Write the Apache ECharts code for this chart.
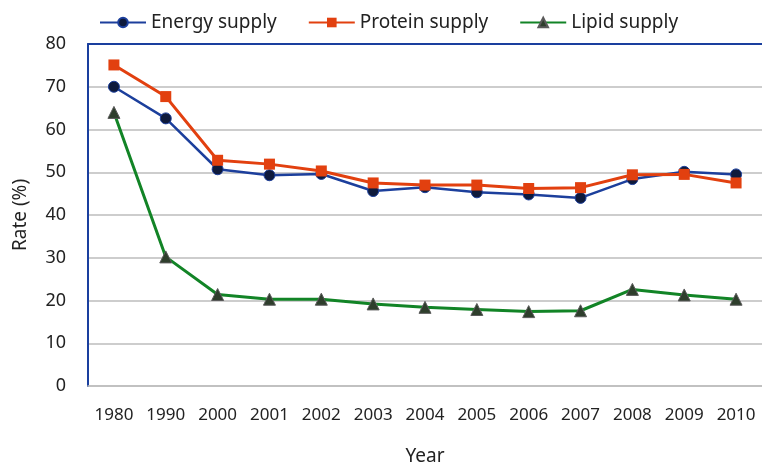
<!DOCTYPE html>
<html>
<head>
<meta charset="utf-8">
<script src="https://cdn.jsdelivr.net/npm/echarts@6/dist/echarts.min.js"></script>
<style>
  html, body { margin: 0; padding: 0; background: #fff; }
  #chart { width: 762px; height: 464px; }
</style>
</head>
<body>
<div id="chart"></div>
<script>
// categories and values
const years = ["1980", "1990", "2000", "2001", "2002", "2003", "2004", "2005", "2006", "2007", "2008", "2009", "2010"];
const energySupply = [70.0, 62.6, 50.7, 49.3, 49.6, 45.6, 46.5, 45.3, 44.8, 44.0, 48.4, 50.1, 49.5];
const proteinSupply = [75.1, 67.7, 52.8, 51.9, 50.3, 47.5, 47.0, 47.0, 46.2, 46.4, 49.4, 49.5, 47.5];
const lipidSupply = [64.0, 30.2, 21.4, 20.3, 20.3, 19.2, 18.4, 17.9, 17.4, 17.6, 22.6, 21.3, 20.3];
const yTicks = [0, 10, 20, 30, 40, 50, 60, 70, 80];

const font = "'Noto Sans', sans-serif";
const chart = echarts.init(document.getElementById("chart"), null, { renderer: "canvas" });

chart.setOption({
  animation: false,
  textStyle: { fontFamily: font },
  legend: {
    top: 8,
    left: 94,
    itemWidth: 46,
    itemHeight: 12,
    itemGap: 31,
    textStyle: { fontSize: 19, color: "#222", fontFamily: font },
    data: ["Energy supply", "Protein supply", "Lipid supply"],
  },
  grid: { left: 88, right: 0, top: 44, bottom: 78, outerBoundsMode: "none" },
  xAxis: [
    {
      type: "category",
      data: years,
      name: "Year",
      nameLocation: "middle",
      nameGap: 61,
      nameTextStyle: { fontSize: 19, color: "#222" },
      axisLine: { lineStyle: { color: "#bdbdbd", width: 1.5 } },
      axisTick: { show: false },
      axisLabel: { fontSize: 17, color: "#222", margin: 21 },
    },
    {
      type: "category",
      data: years,
      position: "top",
      axisLine: { lineStyle: { color: "#1a3f9e", width: 2 } },
      axisTick: { show: false },
      axisLabel: { show: false },
    },
  ],
  yAxis: {
    type: "value",
    min: yTicks[0],
    max: yTicks[yTicks.length - 1],
    interval: 10,
    name: "Rate (%)",
    nameLocation: "middle",
    nameGap: 58,
    nameTextStyle: { fontSize: 19, color: "#222" },
    axisLine: { show: true, lineStyle: { color: "#1a3f9e", width: 2 } },
    axisTick: { show: false },
    axisLabel: { fontSize: 18, color: "#222", margin: 22 },
    splitLine: { lineStyle: { color: "#bdbdbd", width: 1.5 } },
  },
  series: [
    {
      name: "Energy supply",
      type: "line",
      data: energySupply,
      symbol: "circle",
      symbolSize: 11,
      lineStyle: { color: "#1c3f9c", width: 2.5 },
      itemStyle: { color: "#0e1a3c", borderColor: "#1c3f9c", borderWidth: 1 },
      z: 3,
    },
    {
      name: "Protein supply",
      type: "line",
      data: proteinSupply,
      symbol: "rect",
      symbolSize: 11,
      lineStyle: { color: "#e2400f", width: 3 },
      itemStyle: { color: "#e2400f" },
      z: 4,
    },
    {
      name: "Lipid supply",
      type: "line",
      data: lipidSupply,
      symbol: "triangle",
      symbolSize: 12,
      lineStyle: { color: "#128426", width: 3 },
      itemStyle: { color: "#2e3e2c", borderColor: "#5a5a5a", borderWidth: 1 },
      z: 2,
    },
  ],
});
</script>
</body>
</html>
